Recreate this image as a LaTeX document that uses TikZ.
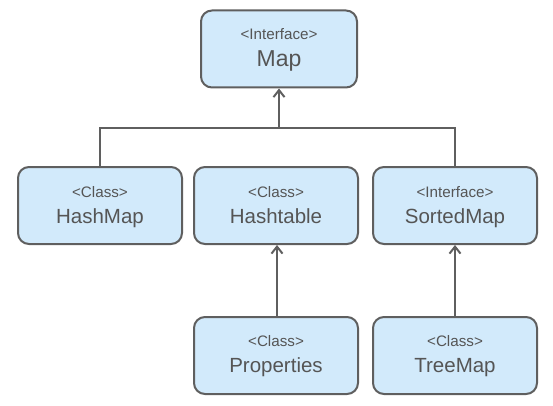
\documentclass[tikz,border=0pt]{standalone}
\usepackage{fontspec}
\setmainfont{Liberation Sans}
\usetikzlibrary{arrows.meta,calc}
\definecolor{boxfill}{HTML}{D2EAFB}
\definecolor{boxline}{HTML}{5F5F5F}
\definecolor{txt}{HTML}{555555}
\begin{document}
\begin{tikzpicture}[x=1pt,y=-1pt,
  box/.style={draw=boxline,line width=2pt,fill=boxfill,rounded corners=11pt,minimum height=77pt,inner sep=0pt},
  stereo/.style={text=txt,font=\fontsize{15.2}{17}\selectfont,anchor=base,inner sep=0pt},
  title/.style={text=txt,font=\fontsize{20.5}{24}\selectfont,anchor=base,inner sep=0pt},
  bigtitle/.style={title,font=\fontsize{23}{26}\selectfont},
  conn/.style={draw=boxline,line width=2pt},
  inh/.style={conn,-{Straight Barb[length=7pt,width=11pt,line width=2pt]}}]
\useasboundingbox (0,0) rectangle (553,406);
% boxes
\node[box,minimum width=156pt] (map) at (279,49) {};
\node[box,minimum width=164pt] (hashmap) at (100,205.5) {};
\node[box,minimum width=164pt] (hashtable) at (276,205.5) {};
\node[box,minimum width=164pt] (sortedmap) at (455,205.5) {};
\node[box,minimum width=164pt] (properties) at (276,355.5) {};
\node[box,minimum width=164pt] (treemap) at (455,355.5) {};
% texts
\node[stereo] (mapS) at ($(map.center)+(0,-9)$) {<Interface>};
\node[bigtitle] (mapT) at ($(map.center)+(0,18)$) {Map};
\node[stereo] (hashmapS) at ($(hashmap.center)+(0,-8.5)$) {<Class>};
\node[title] (hashmapT) at ($(hashmap.center)+(0,17.5)$) {HashMap};
\node[stereo] (hashtableS) at ($(hashtable.center)+(0,-8.5)$) {<Class>};
\node[title] (hashtableT) at ($(hashtable.center)+(0,17.5)$) {Hashtable};
\node[stereo] (sortedmapS) at ($(sortedmap.center)+(0,-8.5)$) {<Interface>};
\node[title] (sortedmapT) at ($(sortedmap.center)+(0,17.5)$) {SortedMap};
\node[stereo] (propertiesS) at ($(properties.center)+(0,-9.5)$) {<Class>};
\node[title] (propertiesT) at ($(properties.center)+(0,17)$) {Properties};
\node[stereo] (treemapS) at ($(treemap.center)+(0,-9.5)$) {<Class>};
\node[title] (treemapT) at ($(treemap.center)+(0,17)$) {TreeMap};
% connectors
\coordinate (junc) at (279,128);
\draw[conn] (hashmap.north) |- (junc) -- (sortedmap.north |- junc) -- (sortedmap.north);
\draw[inh] (junc) -- (map.south);
\draw[inh] ([xshift=1pt]properties.north) -- ([xshift=1pt]hashtable.south);
\draw[inh] (treemap.north) -- (sortedmap.south);
\end{tikzpicture}
\end{document}
